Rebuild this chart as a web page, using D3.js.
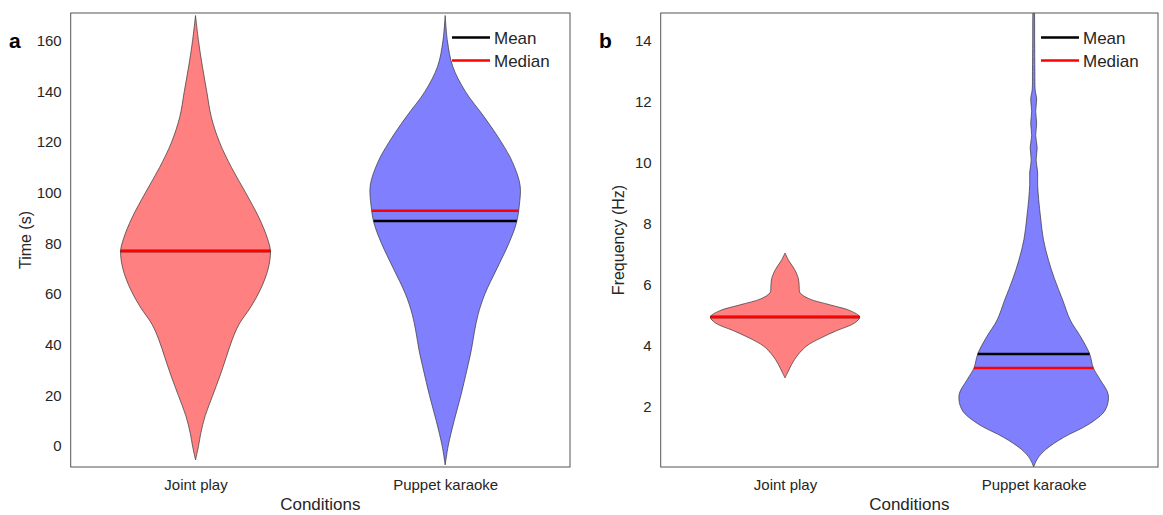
<!DOCTYPE html>
<html><head><meta charset="utf-8">
<script src="https://cdn.jsdelivr.net/npm/d3@7"></script>
<style>body{margin:0;background:#fff}svg{display:block;font-family:"Liberation Sans",Arial,sans-serif}</style>
</head><body><svg id="c" width="1163" height="515"></svg>
<script>
const categories = ["Joint play", "Puppet karaoke"];
const timeTicks = [0, 20, 40, 60, 80, 100, 120, 140, 160];
const freqTicks = [2, 4, 6, 8, 10, 12, 14];
const legendLabels = ["Mean", "Median"];

// violin profiles: value -> relative density (0..1)
const timeJointVals = [170,160,152,140,130,120,110,100,90,82,77,70,62,55,48,42,35,28,20,12,5,0,-5.5];
const timeJointDens = [0,0.04,0.08,0.15,0.21,0.32,0.48,0.67,0.85,0.96,1,0.97,0.87,0.74,0.58,0.49,0.41,0.33,0.23,0.13,0.07,0.04,0];
const timePuppetVals = [170,160,150,140,130,120,112,103,95,88,80,70,60,52,45,38,30,20,10,0,-7.5];
const timePuppetDens = [0,0.03,0.1,0.27,0.52,0.75,0.9,1,0.99,0.95,0.85,0.69,0.53,0.44,0.39,0.35,0.29,0.21,0.12,0.04,0];
const freqJointVals = [7.05,6.8,6.5,6.2,5.95,5.75,5.55,5.35,5.15,4.95,4.75,4.5,4.25,4.0,3.7,3.4,3.15,2.95];
const freqJointDens = [0,0.05,0.13,0.18,0.19,0.2,0.32,0.6,0.88,1,0.93,0.69,0.47,0.29,0.17,0.09,0.04,0];
const freqPuppetVals = [15.5,14.9,14,13,12.4,12.1,11.7,11.3,10.9,10.5,10.1,9.7,9.3,8.8,8.2,7.5,6.8,6.2,5.5,4.85,4.3,3.74,3.28,2.9,2.4,1.9,1.45,1.0,0.6,0.3,0.03];
const freqPuppetDens = [0,0.011,0.013,0.016,0.02,0.04,0.027,0.04,0.027,0.047,0.033,0.053,0.053,0.067,0.093,0.13,0.2,0.28,0.39,0.49,0.63,0.75,0.8,0.89,1,0.96,0.75,0.4,0.16,0.05,0];

const timeMeans = [77, 88.9];
const timeMedians = [77, 92.9];
const freqMeans = [4.95, 3.74];
const freqMedians = [4.95, 3.28];

const fills = ["#FF8080", "#8080FF"];

const svg = d3.select("#c");
const txt = "#262626";

function panel(opt) {
  const {left, right, top, bottom, domain, ticks, ylabel, letter, violins, means, medians, legendX} = opt;
  const x = d3.scaleLinear().domain([0.5, 2.5]).range([left, right]);
  const y = d3.scaleLinear().domain(domain).range([bottom, top]);
  const g = svg.append("g");
  const cid = "clip" + letter;
  svg.append("clipPath").attr("id", cid).append("rect")
    .attr("x", left).attr("y", top).attr("width", right - left).attr("height", bottom - top);
  const plot = g.append("g").attr("clip-path", `url(#${cid})`);
  const maxW = 0.3;
  violins.forEach((v, i) => {
    const c = i + 1;
    const pts = v.vals.map((val, k) => ({val, d: v.dens[k]}));
    const area = d3.area()
      .y(p => y(p.val))
      .x0(p => x(c - p.d * maxW))
      .x1(p => x(c + p.d * maxW))
      .curve(d3.curveCatmullRom);
    plot.append("path").attr("d", area(pts))
      .attr("fill", fills[i]).attr("stroke", "#333").attr("stroke-width", 0.7);
    const halfAt = val => {
      const sorted = pts.slice().sort((a, b) => a.val - b.val);
      for (let k = 0; k < sorted.length - 1; k++) {
        if (val >= sorted[k].val && val <= sorted[k + 1].val) {
          const t = (val - sorted[k].val) / (sorted[k + 1].val - sorted[k].val);
          return (sorted[k].d + t * (sorted[k + 1].d - sorted[k].d)) * maxW;
        }
      }
      return 0;
    };
    const hm = halfAt(means[i]), hd = halfAt(medians[i]);
    plot.append("line").attr("x1", x(c - hm)).attr("x2", x(c + hm))
      .attr("y1", y(means[i])).attr("y2", y(means[i]))
      .attr("stroke", "#000").attr("stroke-width", 2.5);
    plot.append("line").attr("x1", x(c - hd)).attr("x2", x(c + hd))
      .attr("y1", y(medians[i])).attr("y2", y(medians[i]))
      .attr("stroke", "#FF0000").attr("stroke-width", 2.5);
  });
  g.append("rect").attr("x", left).attr("y", top).attr("width", right - left).attr("height", bottom - top)
    .attr("fill", "none").attr("stroke", "#555").attr("stroke-width", 1);
  const ya = g.append("g").attr("transform", `translate(${left},0)`)
    .call(d3.axisLeft(y).tickValues(ticks).tickSize(0).tickPadding(9));
  ya.select(".domain").remove();
  ya.selectAll("text").attr("font-size", 15).attr("fill", txt).attr("font-family", "Liberation Sans, Arial, sans-serif");
  const xa = g.append("g").attr("transform", `translate(0,${bottom})`)
    .call(d3.axisBottom(x).tickValues([1, 2]).tickFormat(d => categories[d - 1]).tickSize(0).tickPadding(12));
  xa.select(".domain").remove();
  xa.selectAll("text").attr("font-size", 15).attr("fill", txt).attr("font-family", "Liberation Sans, Arial, sans-serif");
  g.append("text").attr("x", (left + right) / 2).attr("y", 510).attr("text-anchor", "middle")
    .attr("font-size", 17).attr("fill", txt).text("Conditions");
  g.append("text").attr("transform", `translate(${opt.ylabelX},${(top + bottom) / 2}) rotate(-90)`)
    .attr("text-anchor", "middle").attr("font-size", 16).attr("fill", txt).text(ylabel);
  g.append("text").attr("x", opt.letterX).attr("y", 48).attr("font-size", 21).attr("font-weight", "bold")
    .attr("fill", "#000").text(letter);
  const lc = ["#000", "#FF0000"];
  legendLabels.forEach((lab, i) => {
    const ly = 37.5 + i * 23;
    g.append("line").attr("x1", legendX).attr("x2", legendX + 38).attr("y1", ly).attr("y2", ly)
      .attr("stroke", lc[i]).attr("stroke-width", 2.5);
    g.append("text").attr("x", legendX + 42).attr("y", ly + 6).attr("font-size", 17).attr("fill", txt).text(lab);
  });
}

panel({left: 70.7, right: 570, top: 13, bottom: 467, domain: [-8.3, 171], ticks: timeTicks,
  ylabel: "Time (s)", ylabelX: 31, letter: "a", letterX: 9, legendX: 452,
  violins: [{vals: timeJointVals, dens: timeJointDens}, {vals: timePuppetVals, dens: timePuppetDens}],
  means: timeMeans, medians: timeMedians});
panel({left: 660.7, right: 1158, top: 13, bottom: 467, domain: [0.03, 14.92], ticks: freqTicks,
  ylabel: "Frequency (Hz)", ylabelX: 624, letter: "b", letterX: 599, legendX: 1041,
  violins: [{vals: freqJointVals, dens: freqJointDens}, {vals: freqPuppetVals, dens: freqPuppetDens}],
  means: freqMeans, medians: freqMedians});
</script></body></html>
